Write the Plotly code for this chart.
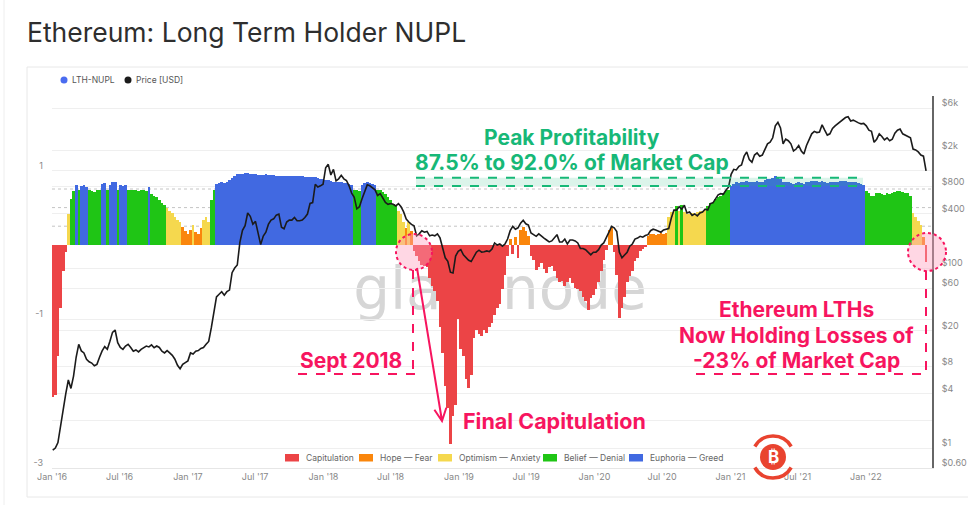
import numpy as np
import pandas as pd
import plotly.graph_objects as go

# ---------------- DATA (weekly) ----------------
nupl_2016 = [-2.05, -2.02, -1.5, -0.85, -0.35, -0.1, 0.42, 0.62, 0.72, 0.8,
             0.74, 0.79, 0.8, 0.78, 0.73, 0.72, 0.71, 0.73, 0.73, 0.82,
             0.83, 0.73, 0.8, 0.85, 0.84, 0.73, 0.8, 0.79, 0.81, 0.73,
             0.74, 0.73, 0.73, 0.72, 0.73, 0.73, 0.72, 0.78, 0.68, 0.66,
             0.64, 0.6, 0.56, 0.53, 0.49, 0.46, 0.43, 0.38, 0.34, 0.3,
             0.24, 0.18, 0.14]
nupl_2017 = [0.2, 0.26, 0.17, 0.15, 0.22, 0.33, 0.38, 0.3, 0.6, 0.74,
             0.82, 0.83, 0.84, 0.83, 0.85, 0.87, 0.9, 0.93, 0.95, 0.95,
             0.95, 0.96, 0.96, 0.95, 0.95, 0.95, 0.94, 0.94, 0.94, 0.95,
             0.94, 0.94, 0.94, 0.93, 0.93, 0.93, 0.93, 0.93, 0.92, 0.92,
             0.92, 0.92, 0.92, 0.92, 0.91, 0.91, 0.91, 0.91, 0.91, 0.9,
             0.89, 0.88]
nupl_2018 = [0.87, 0.87, 0.86, 0.85, 0.85, 0.84, 0.84, 0.83, 0.83, 0.82,
             0.8, 0.74, 0.73, 0.72, 0.8, 0.83, 0.84, 0.83, 0.82, 0.8,
             0.74, 0.73, 0.71, 0.68, 0.64, 0.6, 0.55, 0.52, 0.46, 0.42,
             0.3, 0.22, 0.3, 0.18, -0.08, -0.15, -0.22, -0.27, -0.29, -0.3,
             -0.45, -0.55, -0.62, -0.75, -1.1, -1.45, -1.9, -2.2, -2.68, -2.3,
             -2.15, -1.0]
nupl_2019 = [-1.4, -1.5, -1.8, -1.92, -1.75, -1.25, -1.15, -1.2, -1.23, -1.15,
             -1.18, -1.1, -1.05, -0.95, -0.85, -0.8, -0.6, -0.4, -0.15, 0.08,
             -0.12, 0.1, -0.18, 0.2, 0.24, 0.18, 0.12, -0.15, -0.2, -0.34,
             -0.3, -0.25, -0.32, -0.38, -0.3, -0.28, -0.35, -0.45, -0.5, -0.48,
             -0.56, -0.5, -0.45, -0.52, -0.58, -0.6, -0.62, -0.7, -0.75, -0.87,
             -0.72, -0.68]
nupl_2020 = [-0.6, -0.5, -0.35, -0.2, -0.07, 0.2, 0.22, -0.1, -0.4, -0.98,
             -0.85, -0.7, -0.5, -0.42, -0.35, -0.22, -0.18, -0.08, -0.05, -0.03,
             0.12, 0.14, 0.15, 0.13, 0.14, 0.16, 0.15, 0.16, 0.38, 0.44,
             0.46, 0.52, 0.45, 0.53, 0.44, 0.42, 0.41, 0.43, 0.42, 0.44,
             0.45, 0.46, 0.48, 0.52, 0.56, 0.58, 0.62, 0.64, 0.66, 0.7,
             0.74, 0.74]
nupl_2021 = [0.79, 0.82, 0.84, 0.83, 0.84, 0.85, 0.86, 0.84, 0.84, 0.85,
             0.86, 0.85, 0.85, 0.87, 0.88, 0.89, 0.9, 0.92, 0.91, 0.88,
             0.84, 0.85, 0.84, 0.83, 0.82, 0.83, 0.84, 0.83, 0.82, 0.84,
             0.85, 0.86, 0.86, 0.86, 0.85, 0.86, 0.85, 0.83, 0.84, 0.85,
             0.85, 0.85, 0.86, 0.86, 0.86, 0.85, 0.84, 0.85, 0.84, 0.83,
             0.82, 0.81]
nupl_2022 = [0.72, 0.7, 0.66, 0.65, 0.69, 0.7, 0.68, 0.67, 0.69, 0.68,
             0.7, 0.71, 0.72, 0.72, 0.71, 0.7, 0.69, 0.66, 0.43, 0.38,
             0.32, 0.26, 0.1, -0.23]

price_2016 = [0.95, 1.0, 1.15, 1.8, 2.5, 4.0, 5.7, 4.6, 6.3, 10.2,
              14.2, 12.0, 11.4, 9.7, 9.1, 8.8, 8.2, 8.5, 10.2, 12.0,
              13.4, 12.5, 15.4, 19.3, 20.5, 14.8, 13.1, 12.5, 13.6, 14.2,
              13.1, 11.9, 12.3, 11.7, 12.5, 13.1, 13.6, 13.3, 14.0, 13.0,
              13.6, 13.1, 11.9, 11.4, 12.1, 11.4, 10.7, 9.7, 8.3, 7.6,
              8.5, 8.9, 9.3]
price_2017 = [11.4, 11.1, 11.9, 12.1, 12.8, 13.1, 14.2, 15.3, 21.6, 31.8,
              47.8, 51.2, 54.6, 50.0, 54.6, 56.9, 88.7, 100, 108, 193,
              262, 296, 409, 375, 307, 330, 250, 182, 227, 250,
              307, 341, 352, 387, 398, 284, 273, 324, 341, 341,
              364, 335, 335, 341, 364, 398, 523, 534, 853, 796,
              819, 853]
price_2018 = [1300, 1420, 1080, 1250, 930, 980, 1070, 980, 940, 820,
              680, 610, 455, 480, 590, 700, 840, 820, 770, 740,
              640, 670, 600, 535, 510, 520, 510, 490, 520, 480,
              420, 350, 325, 305, 295, 228, 240, 260, 250, 255,
              228, 233, 228, 240, 216, 170, 130, 119, 90, 88,
              136, 153]
price_2019 = [160, 140, 130, 122, 118, 135, 150, 158, 150, 152,
              155, 152, 163, 190, 180, 185, 175, 185, 210, 260,
              290, 270, 280, 315, 340, 310, 300, 245, 235, 225,
              240, 225, 215, 205, 195, 200, 220, 235, 195, 195,
              210, 185, 205, 205, 200, 190, 165, 165, 160, 150,
              140, 150]
price_2020 = [150, 160, 180, 190, 215, 250, 290, 280, 255, 150,
              130, 140, 150, 175, 185, 210, 215, 225, 220, 230,
              235, 260, 270, 265, 255, 250, 265, 270, 275, 360,
              440, 440, 480, 450, 500, 410, 420, 385, 400, 380,
              410, 420, 450, 440, 520, 530, 590, 650, 670, 660,
              730, 790]
price_2021 = [1100, 1250, 1230, 1350, 1400, 1750, 1950, 1600, 1500, 1800,
              1900, 1750, 1800, 2100, 2400, 2500, 2800, 3800, 4150, 3600,
              2400, 2700, 2600, 2400, 2000, 2100, 2300, 2000, 1850, 2300,
              2700, 3100, 3300, 3200, 3250, 3900, 3400, 3000, 3100, 3550,
              3800, 4000, 4200, 4400, 4700, 4800, 4300, 4400, 4200, 4100,
              4000, 4050]
price_2022 = [3800, 3400, 3300, 2500, 2700, 3100, 2900, 2650, 2800, 2600,
              2700, 3150, 3400, 3500, 3100, 3000, 2900, 2800, 2100, 2050,
              1950, 1800, 1750, 1200]

x_tick_dates = ["2016-01-01", "2016-07-01", "2017-01-01", "2017-07-01", "2018-01-01",
                "2018-07-01", "2019-01-01", "2019-07-01", "2020-01-01", "2020-07-01",
                "2021-01-01", "2021-07-01", "2022-01-01"]
x_tick_labels = ["Jan '16", "Jul '16", "Jan '17", "Jul '17", "Jan '18", "Jul '18",
                 "Jan '19", "Jul '19", "Jan '20", "Jul '20", "Jan '21", "Jul '21", "Jan '22"]
nupl_tickvals = [-3, -1, 1, 2]
nupl_ticktext = ["-3", "-1", "1", ""]
price_tickvals = [0.6, 1, 2, 4, 8, 20, 60, 100, 400, 800, 2000, 6000]
price_ticktext = ["$0.60", "$1", "", "$4", "$8", "$20", "$60", "$100", "$400", "$800", "$2k", "$6k"]

zone_names = ["Capitulation", "Hope — Fear", "Optimism — Anxiety", "Belief — Denial", "Euphoria — Greed"]
zone_colors = ["#ec4446", "#fa860c", "#f5d84e", "#1fc515", "#4169e1"]
zone_limits = [0, 0.25, 0.5, 0.75]
series_names = ["LTH-NUPL", "Price [USD]"]
series_colors = ["#4a6cf0", "#1b1b1b"]

nupl = nupl_2016 + nupl_2017 + nupl_2018 + nupl_2019 + nupl_2020 + nupl_2021 + nupl_2022
price = price_2016 + price_2017 + price_2018 + price_2019 + price_2020 + price_2021 + price_2022
assert len(nupl) == len(price), (len(nupl), len(price))
dates = pd.date_range("2016-01-03", periods=len(nupl), freq="7D")
zone = np.digitize(nupl, zone_limits)

# ---------------- geometry helpers (pixel -> paper) ----------------
W, H = 968, 505
PL, PR, PT, PB = 52, 932, 96, 468
def X(p):
    return (p - PL) / (PR - PL)
def Y(p):
    return (PB - p) / (PB - PT)

FONT = "Inter, 'Noto Sans', sans-serif"
PINK = "#f7155f"
GREEN = "#17b877"
BADGE = "#e9432f"

fig = go.Figure()

week_ms = 7 * 86400000 * 1.06
for k, (name, col) in enumerate(zip(zone_names, zone_colors)):
    yk = [v if z == k else None for v, z in zip(nupl, zone)]
    fig.add_trace(go.Bar(x=dates, y=yk, name=name, marker_color=col,
                         marker_line_width=0, width=week_ms, showlegend=False,
                         hoverinfo="skip"))

fig.add_trace(go.Scatter(x=dates, y=price, yaxis="y2", mode="lines",
                         line=dict(color=series_colors[1], width=1.6), showlegend=False,
                         name=series_names[1]))

shapes = []
annotations = []

def text(t, x, y, size, color, xanchor="center", bold=False, family=FONT):
    annotations.append(dict(text=f"<b>{t}</b>" if bold else t, x=X(x), y=Y(y),
                            xref="paper", yref="paper", showarrow=False,
                            xanchor=xanchor, yanchor="middle",
                            font=dict(size=size, color=color, family=family)))

# card border and page edge
shapes.append(dict(type="rect", xref="paper", yref="paper", x0=X(27), x1=X(995),
                   y0=Y(67), y1=Y(497), line=dict(color="#e8e8e8", width=1), layer="below"))
shapes.append(dict(type="line", xref="paper", yref="paper", x0=X(4), x1=X(4),
                   y0=Y(0), y1=Y(505), line=dict(color="#eeeeee", width=1), layer="below"))
# threshold dotted lines
for v in zone_limits[1:]:
    shapes.append(dict(type="line", xref="paper", yref="y", x0=0, x1=1, y0=v, y1=v,
                       line=dict(color="#c4c4c4", width=1, dash="dot"), layer="below"))
# watermark
shapes.append(dict(type="rect", xref="paper", yref="paper", x0=X(350), x1=X(650),
                   y0=Y(318), y1=Y(252), line=dict(width=0), fillcolor="rgba(0,0,0,0)",
                   layer="below",
                   label=dict(text="glassnode", font=dict(size=58, color="#d6d6d6",
                              family="'DejaVu Sans', sans-serif"),
                              textposition="middle center")))
# green peak band
shapes.append(dict(type="rect", xref="paper", yref="paper", x0=X(416), x1=X(863),
                   y0=Y(186), y1=Y(177.7), line=dict(width=0),
                   fillcolor="rgba(30,185,125,0.16)"))
for yy in (177.7, 186):
    shapes.append(dict(type="line", xref="paper", yref="paper", x0=X(416), x1=X(863),
                       y0=Y(yy), y1=Y(yy), line=dict(color=GREEN, width=2, dash="dash")))
# circles
for cx, cy, r in ((414, 252, 18), (927, 252, 19)):
    shapes.append(dict(type="circle", xref="paper", yref="paper", x0=X(cx - r), x1=X(cx + r),
                       y0=Y(cy + r), y1=Y(cy - r), fillcolor="rgba(255,160,190,0.42)",
                       line=dict(color=PINK, width=2, dash="dot")))
# dashed brackets
for (xa, ya, xb, yb) in ((413, 270, 413, 374), (298, 374, 417, 374),
                         (926, 271, 926, 374), (696, 374, 926, 374)):
    shapes.append(dict(type="line", xref="paper", yref="paper", x0=X(xa), x1=X(xb),
                       y0=Y(ya), y1=Y(yb), line=dict(color=PINK, width=2, dash="dash")))
# arrow
path = (f"M {X(417)} {Y(268)} L {X(442)} {Y(421)} "
        f"M {X(434.4)} {Y(409.7)} L {X(442)} {Y(421)} L {X(446.3)} {Y(407.8)}")
shapes.append(dict(type="path", xref="paper", yref="paper", path=path,
                   line=dict(color=PINK, width=2)))
# small bitcoin badge (page watermark)
shapes.append(dict(type="circle", xref="paper", yref="paper", x0=X(760), x1=X(786),
                   y0=Y(470), y1=Y(444), fillcolor=BADGE, line=dict(width=0)))
for (a, b, c, d) in (((754.8, 446.5), (762.9, 432.5), (783.1, 432.5), (791.2, 446.5)),
                     ((754.8, 467.5), (762.9, 481.5), (783.1, 481.5), (791.2, 467.5))):
    arc = (f"M {X(a[0])} {Y(a[1])} C {X(b[0])} {Y(b[1])} {X(c[0])} {Y(c[1])} "
           f"{X(d[0])} {Y(d[1])}")
    shapes.append(dict(type="path", xref="paper", yref="paper", path=arc,
                       line=dict(color=BADGE, width=3.5)))

# top legend (series)
for (name, col, dx) in zip(series_names, series_colors, (64, 128)):
    shapes.append(dict(type="circle", xref="paper", yref="paper", x0=X(dx - 3.5), x1=X(dx + 3.5),
                       y0=Y(83.5), y1=Y(76.5), fillcolor=col, line=dict(width=0)))
    text(name, dx + 6, 80, 8.5, "#555", xanchor="left")
# bottom legend (zones)
for (name, col, lx) in zip(zone_names, zone_colors, (285, 359, 438, 543, 629)):
    shapes.append(dict(type="rect", xref="paper", yref="paper", x0=X(lx), x1=X(lx + 14),
                       y0=Y(461.5), y1=Y(454), fillcolor=col, line=dict(width=0)))
    text(name, lx + 19, 457.7, 8.5, "#666", xanchor="left")

text("Ethereum: Long Term Holder NUPL", 25, 32, 26.5, "#2e2e2e", xanchor="left")
text("Peak Profitability", 572, 137, 21, GREEN, bold=True)
text("87.5% to 92.0% of Market Cap", 572, 162, 21, GREEN, bold=True)
text("Sept 2018", 351, 360, 21, PINK, bold=True)
text("Final Capitulation", 554, 421, 21.5, PINK, bold=True)
text("Ethereum LTHs", 796, 309, 21, PINK, bold=True)
text("Now Holding Losses of", 796, 335, 21, PINK, bold=True)
text("-23% of Market Cap", 796, 360, 21, PINK, bold=True)
text("₿", 773, 457, 17, "white", bold=True)

fig.update_layout(
    width=W, height=H, autosize=False,
    margin=dict(l=PL, r=W - PR, t=PT, b=H - PB, pad=0),
    paper_bgcolor="white", plot_bgcolor="white",
    font=dict(family=FONT, size=9, color="#777"),
    barmode="overlay", bargap=0,
    showlegend=False,
    shapes=shapes, annotations=annotations,
    xaxis=dict(type="date", range=["2016-01-01", "2022-06-28"], tickvals=x_tick_dates,
               ticktext=x_tick_labels, showgrid=False, showline=True, linecolor="#e6e6e6",
               ticks="", tickfont=dict(size=9, color="#888"), zeroline=False,
               automargin=False),
    yaxis=dict(range=[-3, 2], tickvals=nupl_tickvals, ticktext=nupl_ticktext,
               showgrid=True, gridcolor="#efefef", zeroline=False, showline=False,
               ticks="", tickfont=dict(size=9, color="#888"), ticklabelstandoff=8,
               ticklabelshift=-5, automargin=False),
    yaxis2=dict(overlaying="y", side="right", type="log",
                range=[np.log10(0.6), np.log10(0.6) + (PB - PT) / 90.0],
                tickvals=price_tickvals, ticktext=price_ticktext, showgrid=True,
                gridcolor="#efefef", zeroline=False, showline=True, linecolor="#666",
                linewidth=2, ticks="", tickfont=dict(size=9, color="#888"),
                ticklabelstandoff=6, ticklabelshift=-5, automargin=False),
)

fix_page = ("document.body.style.margin='0px';document.body.style.overflow='hidden';"
            "Plotly.relayout(document.getElementById('{plot_id}'), {width: 968, height: 505});")
fig.write_html("out.html", post_script=fix_page,
               config={"displayModeBar": False, "staticPlot": True})
